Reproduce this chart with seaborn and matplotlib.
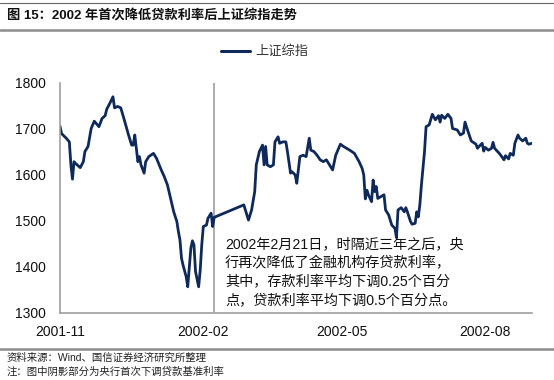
import pandas as pd
import seaborn as sns
import matplotlib.pyplot as plt
import matplotlib.dates as mdates
from matplotlib.lines import Line2D

# 上证综指 readings
dates = [
    "2001-11-01", "2001-11-02", "2001-11-05", "2001-11-07", "2001-11-08", "2001-11-09",
    "2001-11-10", "2001-11-11", "2001-11-14", "2001-11-16", "2001-11-17", "2001-11-19",
    "2001-11-21", "2001-11-23", "2001-11-26", "2001-11-28", "2001-11-30", "2001-12-01",
    "2001-12-03", "2001-12-05", "2001-12-06", "2001-12-08", "2001-12-10", "2001-12-12",
    "2001-12-15", "2001-12-17", "2001-12-18", "2001-12-19", "2001-12-21", "2001-12-22",
    "2001-12-23", "2001-12-25", "2001-12-26", "2001-12-28", "2001-12-31", "2002-01-02",
    "2002-01-05", "2002-01-07", "2002-01-09", "2002-01-10", "2002-01-11", "2002-01-13",
    "2002-01-15", "2002-01-16", "2002-01-17", "2002-01-18", "2002-01-19", "2002-01-21",
    "2002-01-22", "2002-01-24", "2002-01-25", "2002-01-26", "2002-01-27", "2002-01-29",
    "2002-01-30", "2002-01-31", "2002-02-01", "2002-02-03", "2002-02-04", "2002-02-06",
    "2002-02-07", "2002-02-08", "2002-02-27", "2002-03-02", "2002-03-04", "2002-03-06",
    "2002-03-07", "2002-03-09", "2002-03-11", "2002-03-12", "2002-03-13", "2002-03-14",
    "2002-03-16", "2002-03-18", "2002-03-19", "2002-03-21", "2002-03-22", "2002-03-24",
    "2002-03-26", "2002-03-27", "2002-03-29", "2002-03-30", "2002-04-01", "2002-04-02",
    "2002-04-04", "2002-04-06", "2002-04-08", "2002-04-10", "2002-04-11", "2002-04-13",
    "2002-04-15", "2002-04-17", "2002-04-19", "2002-04-21", "2002-04-23", "2002-04-25",
    "2002-04-27", "2002-04-30", "2002-05-02", "2002-05-06", "2002-05-09", "2002-05-12",
    "2002-05-14", "2002-05-15", "2002-05-16", "2002-05-17", "2002-05-18", "2002-05-20",
    "2002-05-21", "2002-05-22", "2002-05-23", "2002-05-24", "2002-05-26", "2002-05-28",
    "2002-05-29", "2002-05-31", "2002-06-02", "2002-06-04", "2002-06-05", "2002-06-06",
    "2002-06-08", "2002-06-10", "2002-06-11", "2002-06-12", "2002-06-14", "2002-06-15",
    "2002-06-17", "2002-06-18", "2002-06-19", "2002-06-20", "2002-06-21", "2002-06-23",
    "2002-06-24", "2002-06-26", "2002-06-28", "2002-06-30", "2002-07-02", "2002-07-03",
    "2002-07-04", "2002-07-06", "2002-07-08", "2002-07-10", "2002-07-11", "2002-07-14",
    "2002-07-16", "2002-07-18", "2002-07-19", "2002-07-21", "2002-07-23", "2002-07-26",
    "2002-07-27", "2002-07-28", "2002-07-30", "2002-07-31", "2002-08-01", "2002-08-03",
    "2002-08-05", "2002-08-06", "2002-08-07", "2002-08-10", "2002-08-12", "2002-08-13",
    "2002-08-14", "2002-08-16", "2002-08-17", "2002-08-19", "2002-08-20", "2002-08-22",
    "2002-08-23", "2002-08-25", "2002-08-27", "2002-08-28", "2002-08-29", "2002-08-31",
]
index_values = [
    1706, 1690, 1680, 1672, 1622, 1591,
    1629, 1625, 1616, 1629, 1651, 1662,
    1701, 1717, 1705, 1723, 1729, 1743,
    1756, 1770, 1746, 1749, 1746, 1723,
    1687, 1665, 1665, 1687, 1629, 1640,
    1622, 1604, 1629, 1640, 1647, 1636,
    1611, 1596, 1578, 1564, 1549, 1520,
    1499, 1477, 1459, 1419, 1404, 1379,
    1357, 1441, 1457, 1448, 1390, 1357,
    1393, 1448, 1488, 1491, 1506, 1517,
    1488, 1508, 1535, 1502, 1524, 1564,
    1622, 1651, 1665, 1622, 1662, 1622,
    1618, 1622, 1672, 1683, 1669, 1672,
    1672, 1651, 1604, 1607, 1600, 1582,
    1640, 1643, 1640, 1680, 1654, 1651,
    1643, 1633, 1629, 1633, 1622, 1611,
    1643, 1667, 1662, 1654, 1647, 1629,
    1614, 1600, 1548, 1567, 1557, 1542,
    1589, 1564, 1575, 1549, 1553, 1557,
    1524, 1513, 1491, 1484, 1464, 1524,
    1529, 1520, 1529, 1520, 1499, 1493,
    1495, 1520, 1509, 1535, 1578, 1651,
    1705, 1709, 1732, 1720, 1729, 1715,
    1730, 1723, 1732, 1723, 1701, 1698,
    1687, 1691, 1715, 1694, 1674, 1667,
    1658, 1662, 1669, 1652, 1660, 1654,
    1658, 1671, 1658, 1647, 1638, 1633,
    1642, 1635, 1647, 1643, 1669, 1687,
    1680, 1674, 1680, 1669, 1667, 1669,
]
series_name = "上证综指"
tick_dates = ["2001-11-01", "2002-02-01", "2002-05-01", "2002-08-01"]
y_ticks = [1300, 1400, 1500, 1600, 1700, 1800]
cut_date = "2002-02-08"

title = "图 15：2002 年首次降低贷款利率后上证综指走势"
note_text = ("2002年2月21日，时隔近三年之后，央\n"
             "行再次降低了金融机构存贷款利率，\n"
             "其中，存款利率平均下调0.25个百分\n"
             "点，贷款利率平均下调0.5个百分点。")
source_text = "资料来源：Wind、国信证券经济研究所整理"
foot_note = "注：图中阴影部分为央行首次下调贷款基准利率"

df = pd.DataFrame({"date": pd.to_datetime(dates), "value": index_values})

sns.set_style("white")
plt.rcParams["font.family"] = ["Liberation Sans", "Noto Sans CJK SC", "DejaVu Sans"]

fig = plt.figure(figsize=(5.54, 3.8), dpi=100)
ax = fig.add_axes([60 / 554, 1 - 313 / 380, 472 / 554, 230 / 380])

navy = "#0f2a5a"
sns.lineplot(data=df, x="date", y="value", ax=ax, color=navy, linewidth=2.0,
             label=series_name, legend=False)
ax.axvline(pd.Timestamp(cut_date), color="#a6a6a6", lw=1.3, zorder=1)

ax.set_xlim(pd.Timestamp("2001-11-01"), pd.Timestamp("2002-08-31"))
ax.set_ylim(1300, 1800)
ax.set_xticks(pd.to_datetime(tick_dates))
ax.xaxis.set_major_formatter(mdates.DateFormatter("%Y-%m"))
ax.set_yticks(y_ticks)
ax.set_xlabel("")
ax.set_ylabel("")

for side in ["top", "right"]:
    ax.spines[side].set_visible(False)
for side in ["left", "bottom"]:
    ax.spines[side].set_color("#a0a0a0")
    ax.spines[side].set_linewidth(1.2)
ax.tick_params(axis="both", colors="#a0a0a0", labelcolor="#111111",
               labelsize=10, length=3, width=1.0, direction="out")
ax.tick_params(axis="y", pad=7)
ax.tick_params(axis="x", pad=6)

ax.text(pd.Timestamp("2002-02-15"), 1465, note_text, fontsize=10.2,
        linespacing=1.45, va="top", ha="left", color="#111111")

leg = fig.legend(handles=[Line2D([], [], color=navy, lw=2.2)], labels=[series_name],
                 loc="center", bbox_to_anchor=(265 / 554, 1 - 52 / 380),
                 frameon=False, fontsize=9.5, handlelength=2.2, handletextpad=0.4)
for t in leg.get_texts():
    t.set_color("#333333")

# header and footer rules
fig.add_artist(Line2D([0, 1], [1 - 3 / 380] * 2, color="#666666", lw=0.8))
fig.add_artist(Line2D([0, 1], [1 - 30 / 380] * 2, color="#8c8c8c", lw=1.8))
fig.add_artist(Line2D([0, 1], [1 - 349 / 380] * 2, color="#8c8c8c", lw=1.8))

fig.text(7 / 554, 1 - 16 / 380, title, fontsize=9.5, fontweight="bold",
         va="center", ha="left", color="#111111")
fig.text(7 / 554, 1 - 358 / 380, source_text, fontsize=7.5, va="center",
         ha="left", color="#222222")
fig.text(7 / 554, 1 - 372 / 380, foot_note, fontsize=7.5, va="center",
         ha="left", color="#222222")

fig.savefig("out.png", dpi=100)
